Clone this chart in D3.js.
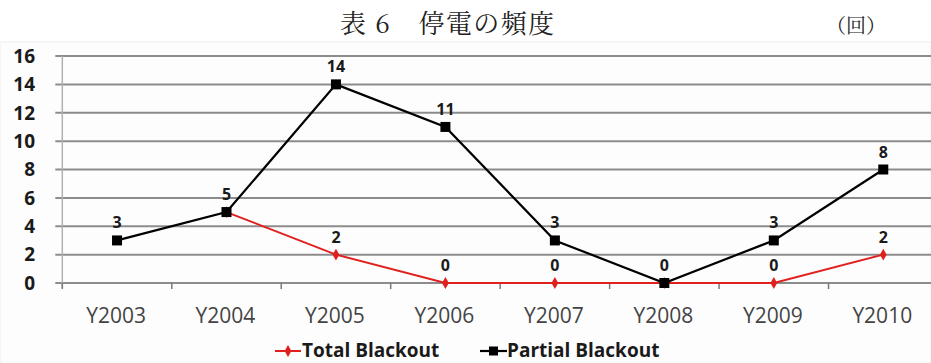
<!DOCTYPE html>
<html><head><meta charset="utf-8">
<script src="https://cdn.jsdelivr.net/npm/d3@7"></script>
<style>
html,body{margin:0;padding:0;background:#fff;}
svg{display:block;}
</style></head>
<body>
<svg id="c" width="931" height="363"></svg>
<script>
const categories = ["Y2003","Y2004","Y2005","Y2006","Y2007","Y2008","Y2009","Y2010"];
const totalBlackout = [null,5,2,0,0,0,0,2];
const partialBlackout = [3,5,14,11,3,0,3,8];
const yTicks = [0,2,4,6,8,10,12,14,16];
const titleText = "表 6　停電の頻度";
const unitText = "（回）";
const seriesNames = ["Total Blackout","Partial Blackout"];

(function(){
const svg = d3.select("#c");
const W = 931, H = 363;
const pLeft = 62.3, pRight = 938, pTop = 56, pBottom = 283;

svg.append("rect").attr("x",0).attr("y",42).attr("width",W).attr("height",H-42)
  .attr("fill","#fdfdfd").attr("stroke","#eee").attr("stroke-width",1);

const x = d3.scaleBand().domain(categories).range([pLeft,pRight]).padding(0);
const cx = d => x(d) + x.bandwidth()/2;
const y = d3.scaleLinear().domain([0,16]).range([pBottom,pTop]);

// gridlines
svg.append("g").selectAll("line").data(yTicks).join("line")
  .attr("x1",pLeft-7).attr("x2",W).attr("y1",d=>y(d)).attr("y2",d=>y(d))
  .attr("stroke","#8c8c8c").attr("stroke-width",2);

// y axis line
svg.append("line").attr("x1",pLeft).attr("x2",pLeft).attr("y1",pTop).attr("y2",pBottom+5)
  .attr("stroke","#b0b0b0").attr("stroke-width",1.5);

// y tick labels
svg.append("g").selectAll("text").data(yTicks).join("text")
  .attr("x",35).attr("y",d=>y(d)).attr("dy","0.36em").attr("text-anchor","end")
  .attr("font-family","'Open Sans', sans-serif").attr("font-weight",700).attr("font-size",19)
  .attr("fill","#1a1a1a").text(d=>d);

// x tick marks at band boundaries
const bounds = categories.map(c=>x(c)).concat([x(categories[categories.length-1])+x.bandwidth()]);
svg.append("g").selectAll("line").data(bounds).join("line")
  .attr("x1",d=>d).attr("x2",d=>d).attr("y1",pBottom).attr("y2",pBottom+6)
  .attr("stroke","#7a7a7a").attr("stroke-width",1.5);

// x labels
svg.append("g").selectAll("text").data(categories).join("text")
  .attr("x",d=>cx(d)-1).attr("y",323).attr("text-anchor","middle")
  .attr("font-family","'Open Sans', sans-serif").attr("font-size",21)
  .attr("fill","#444").text(d=>d);

// title
svg.append("text").attr("x",340).attr("y",33).attr("text-anchor","start")
  .attr("font-family","'Noto Serif CJK JP','Noto Sans CJK JP',serif").attr("font-size",26)
  .attr("textLength",214).attr("lengthAdjust","spacing")
  .attr("fill","#222").text(titleText);
svg.append("text").attr("x",856).attr("y",33).attr("text-anchor","middle")
  .attr("font-family","'Noto Serif CJK JP','Noto Sans CJK JP',serif").attr("font-size",20)
  .attr("fill","#222").text(unitText);

const line = d3.line().defined(d=>d.v!=null).x(d=>cx(d.c)).y(d=>y(d.v));
const totData = categories.map((c,i)=>({c,v:totalBlackout[i]}));
const parData = categories.map((c,i)=>({c,v:partialBlackout[i]}));

// total series (red)
svg.append("path").datum(totData).attr("d",line).attr("fill","none")
  .attr("stroke","#e0201e").attr("stroke-width",2);
svg.append("g").selectAll("path").data(totData.filter(d=>d.v!=null)).join("path")
  .attr("d",d3.symbol(d3.symbolDiamond,40)())
  .attr("transform",d=>`translate(${cx(d.c)},${y(d.v)})`).attr("fill","#e0201e");

// partial series (black)
svg.append("path").datum(parData).attr("d",line).attr("fill","none")
  .attr("stroke","#000").attr("stroke-width",2.2);
svg.append("g").selectAll("rect").data(parData).join("rect")
  .attr("x",d=>cx(d.c)-5).attr("y",d=>y(d.v)-5).attr("width",10).attr("height",10)
  .attr("fill","#000");

// data labels
const lbl = (data) => svg.append("g").selectAll("text").data(data.filter(d=>d.v!=null)).join("text")
  .attr("x",d=>cx(d.c)).attr("y",d=>y(d.v)-12).attr("text-anchor","middle")
  .attr("font-family","'Open Sans', sans-serif").attr("font-weight",700).attr("font-size",16)
  .attr("fill","#1a1a1a").text(d=>d.v);
lbl(totData.filter((d,i)=>!(partialBlackout[i]===d.v)));
lbl(parData);

// legend
const lg = svg.append("g");
const ly = 351;
lg.append("line").attr("x1",275).attr("x2",301).attr("y1",ly).attr("y2",ly)
  .attr("stroke","#e0201e").attr("stroke-width",2);
lg.append("path").attr("d",d3.symbol(d3.symbolDiamond,40)()).attr("transform",`translate(288,${ly})`).attr("fill","#e0201e");
lg.append("text").attr("x",302).attr("y",357).attr("font-family","'Open Sans', sans-serif")
  .attr("font-weight",700).attr("font-size",19).attr("fill","#1a1a1a").text(seriesNames[0]);
lg.append("line").attr("x1",480).attr("x2",507).attr("y1",ly).attr("y2",ly)
  .attr("stroke","#000").attr("stroke-width",2.2);
lg.append("rect").attr("x",489).attr("y",ly-4.5).attr("width",9).attr("height",9).attr("fill","#000");
lg.append("text").attr("x",507).attr("y",357).attr("font-family","'Open Sans', sans-serif")
  .attr("font-weight",700).attr("font-size",19).attr("fill","#1a1a1a").text(seriesNames[1]);
})();
</script>
</body></html>
